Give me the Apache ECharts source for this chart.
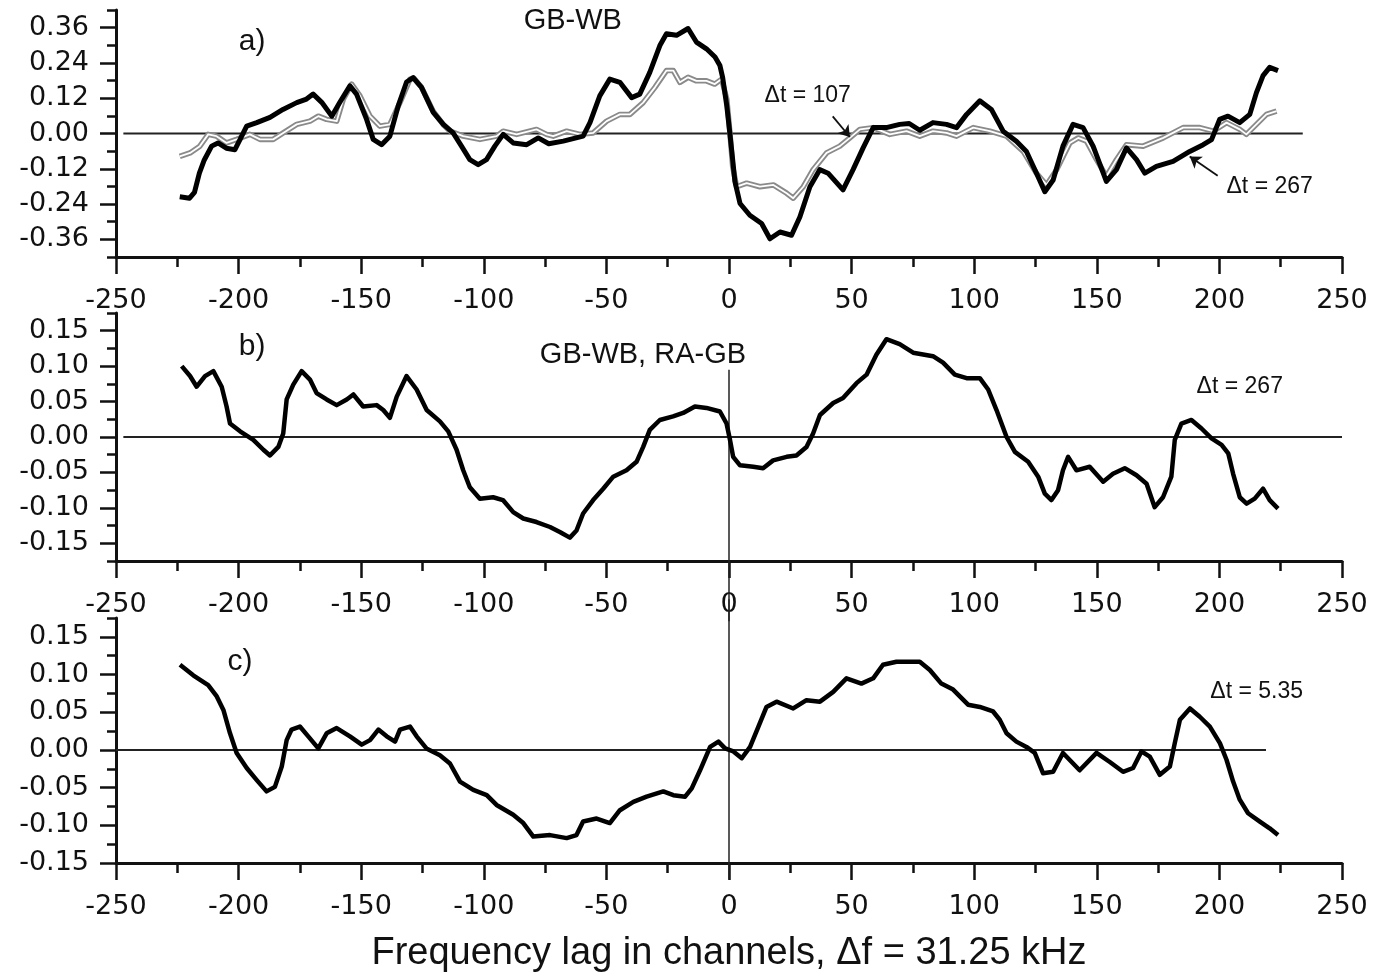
<!DOCTYPE html>
<html>
<head>
<meta charset="utf-8">
<title>GB-WB frequency lag</title>
<script src="https://cdnjs.cloudflare.com/ajax/libs/echarts/6.0.0/echarts.min.js"></script>
<style>
    html, body { margin: 0; padding: 0; background: #fff; }
    #chart { width: 1375px; height: 975px; }
</style>
</head>
<body>
<div id="chart"></div>
<script>
// panel a) GB-WB, dt = 267 (black) and dt = 107 (grey)
const gbwb267 = [[-224,-0.215],[-220,-0.22],[-218,-0.20],[-216,-0.135],[-214,-0.09],[-211,-0.043],[-208.4,-0.032],[-205,-0.05],[-201.5,-0.055],[-199.4,-0.02],[-196.7,0.025],[-192.6,0.037],[-187.2,0.055],[-181.9,0.082],[-176.3,0.105],[-172.3,0.117],[-169.6,0.134],[-166.1,0.106],[-162,0.059],[-158.7,0.106],[-154.6,0.162],[-151.9,0.134],[-147.8,0.048],[-145.1,-0.02],[-141.7,-0.038],[-138.3,-0.009],[-134.9,0.094],[-131.5,0.175],[-128.8,0.19],[-125.4,0.157],[-120.6,0.072],[-116.5,0.031],[-112.5,0.002],[-109.1,-0.043],[-105.7,-0.089],[-102.3,-0.106],[-98.9,-0.089],[-95.5,-0.043],[-92.1,-0.003],[-88,-0.032],[-82.5,-0.038],[-77.8,-0.015],[-73.5,-0.035],[-67.6,-0.026],[-59.5,-0.009],[-56.7,0.037],[-52.7,0.128],[-48.6,0.185],[-44.5,0.174],[-39.7,0.122],[-36.4,0.134],[-32.3,0.208],[-28.2,0.299],[-25.5,0.339],[-21.4,0.334],[-16.7,0.357],[-13.3,0.311],[-9.2,0.288],[-5.7,0.26],[-3.7,0.231],[-2.6,0.191],[-0.9,0.094],[0.4,-0.003],[1.5,-0.089],[2.4,-0.163],[4.5,-0.238],[8.5,-0.278],[13.3,-0.306],[16.7,-0.358],[20.8,-0.335],[25.5,-0.346],[28.9,-0.284],[33,-0.181],[37,-0.123],[40.4,-0.135],[46.5,-0.192],[50.6,-0.123],[54.7,-0.049],[58.8,0.02],[64.2,0.02],[69.6,0.031],[73.5,0.034],[77.8,0.011],[83.2,0.037],[88.7,0.031],[92.8,0.02],[96.9,0.065],[102.3,0.111],[107,0.082],[111.8,0.008],[117.2,-0.026],[121.3,-0.061],[125.4,-0.135],[128.8,-0.198],[132.2,-0.158],[136.2,-0.043],[140.3,0.031],[144.4,0.02],[148.5,-0.043],[153.9,-0.163],[158,-0.123],[162.1,-0.049],[166.2,-0.089],[169.6,-0.135],[174.3,-0.112],[181.1,-0.095],[187.9,-0.061],[193.4,-0.038],[196.8,-0.021],[200.1,0.048],[203.5,0.059],[208.3,0.037],[212.4,0.065],[215.1,0.139],[217.8,0.197],[220.5,0.225],[223.9,0.214]];
const gbwb107 = [[-224,-0.078],[-219.8,-0.066],[-215.8,-0.043],[-212.4,-0.003],[-209,-0.009],[-204.9,-0.032],[-200.8,-0.02],[-195.4,-0.003],[-191.3,-0.02],[-185.9,-0.02],[-181.8,0.002],[-176.3,0.031],[-170.9,0.042],[-167.5,0.059],[-164.1,0.048],[-160,0.042],[-157.3,0.117],[-153.9,0.168],[-150.5,0.128],[-146.4,0.059],[-142.4,0.025],[-138.3,0.031],[-134.2,0.105],[-130.1,0.185],[-128.5,0.188],[-125.4,0.157],[-120.6,0.075],[-116.5,0.03],[-113.8,0.008],[-108.4,-0.009],[-101.6,-0.02],[-94.8,-0.009],[-92.1,0.008],[-86.6,-0.003],[-78.5,0.014],[-74.4,-0.003],[-71.7,-0.009],[-66.2,0.008],[-60.8,-0.003],[-55.4,0.002],[-49.9,0.042],[-44.5,0.065],[-40.4,0.065],[-35,0.105],[-30.2,0.157],[-25.5,0.214],[-22.7,0.214],[-20,0.174],[-16.7,0.191],[-13.3,0.179],[-9.2,0.179],[-5.8,0.168],[-3,0.185],[-0.9,0.117],[0.4,0],[1.5,-0.112],[3.1,-0.181],[7.2,-0.169],[12.6,-0.181],[18.1,-0.175],[23.5,-0.203],[26.2,-0.22],[30.3,-0.181],[34.3,-0.123],[39.8,-0.066],[45.2,-0.043],[49.3,-0.015],[53.4,0.014],[58.8,0.02],[65.6,-0.003],[72.4,0.008],[77.8,-0.009],[83.2,0.008],[88.7,0.002],[92.8,-0.009],[99.6,0.02],[106.4,0.008],[113.2,-0.009],[120,-0.061],[125.4,-0.135],[129.5,-0.175],[133.6,-0.123],[139,-0.032],[142.4,-0.015],[145.8,-0.026],[149.9,-0.089],[153.9,-0.146],[158,-0.089],[162.1,-0.038],[168.9,-0.043],[177.1,-0.015],[185.2,0.02],[192,0.02],[197.5,0.008],[202.9,0.037],[208.3,0.014],[211,-0.003],[215.1,0.031],[219.2,0.065],[223.3,0.076]];
// panel b) GB-WB, RA-GB, dt = 267
const ragb267 = [[-223.2,0.1],[-219.8,0.086],[-217.1,0.071],[-213.7,0.086],[-210.3,0.093],[-206.9,0.071],[-204.9,0.043],[-203.5,0.019],[-199.4,0.008],[-194,-0.004],[-189.9,-0.018],[-187.2,-0.026],[-183.8,-0.014],[-181.8,0.005],[-180.4,0.053],[-177.7,0.074],[-174.3,0.093],[-170.9,0.081],[-168.2,0.062],[-164.1,0.053],[-160,0.045],[-155.9,0.053],[-153.2,0.06],[-149.2,0.043],[-143.7,0.045],[-141,0.038],[-138.3,0.027],[-135.5,0.057],[-131.5,0.086],[-127.4,0.067],[-123.3,0.038],[-117.9,0.022],[-114.5,0.008],[-111.1,-0.018],[-108.4,-0.047],[-105.7,-0.071],[-101.6,-0.087],[-96.2,-0.085],[-92.2,-0.089],[-88,-0.106],[-83.9,-0.115],[-78.5,-0.12],[-73,-0.127],[-69,-0.134],[-64.9,-0.142],[-62.2,-0.132],[-59.5,-0.108],[-55.4,-0.089],[-51.3,-0.073],[-47.2,-0.056],[-41.8,-0.047],[-37.7,-0.035],[-35,-0.014],[-32.3,0.01],[-28.2,0.024],[-22.8,0.029],[-18.7,0.034],[-13.9,0.043],[-9.2,0.041],[-3.7,0.036],[-1,0.019],[0.4,-0.004],[1.7,-0.028],[4.5,-0.04],[9.9,-0.042],[13.9,-0.044],[18,-0.033],[23.5,-0.028],[27.5,-0.026],[31.6,-0.014],[34.3,0.005],[37.1,0.031],[42.5,0.048],[46.5,0.055],[52,0.076],[56.1,0.088],[60.1,0.116],[64.2,0.138],[69.6,0.131],[75.1,0.119],[83.2,0.114],[87.3,0.105],[92.1,0.088],[96.9,0.083],[102.3,0.083],[105.7,0.067],[109.1,0.038],[113.2,0],[116.6,-0.021],[122,-0.035],[126.1,-0.056],[128.8,-0.08],[131.5,-0.089],[134.2,-0.075],[136.2,-0.047],[138.3,-0.028],[141.7,-0.047],[147.1,-0.042],[152.6,-0.063],[156.6,-0.052],[161.4,-0.044],[166.2,-0.054],[170.3,-0.066],[173.6,-0.099],[177,-0.085],[180.4,-0.056],[181.8,-0.004],[184.5,0.019],[188.6,0.024],[192.7,0.012],[196.8,-0.002],[200.9,-0.011],[203.6,-0.023],[205.6,-0.052],[208.3,-0.085],[211.1,-0.094],[214.4,-0.087],[217.8,-0.073],[220.5,-0.089],[223.9,-0.101]];
// panel c) dt = 5.35
const ragb535 = [[-223.9,0.113],[-218.5,0.099],[-212.4,0.086],[-208.9,0.071],[-206.2,0.053],[-203.5,0.022],[-200.8,-0.004],[-196.7,-0.024],[-192.6,-0.04],[-188.6,-0.055],[-185.2,-0.049],[-182.4,-0.022],[-180.4,0.013],[-178.4,0.027],[-175,0.031],[-171.6,0.018],[-167.5,0.002],[-164.1,0.022],[-160,0.029],[-154.6,0.018],[-149.8,0.007],[-146.4,0.013],[-143,0.027],[-139.6,0.018],[-136.2,0.011],[-134.2,0.027],[-130.1,0.031],[-127.4,0.018],[-123.4,0.002],[-117.9,-0.007],[-113.8,-0.018],[-109.7,-0.042],[-104.3,-0.053],[-98.8,-0.06],[-94.8,-0.073],[-88,-0.086],[-83.9,-0.097],[-79.8,-0.115],[-73,-0.113],[-66.2,-0.117],[-62.2,-0.113],[-59.5,-0.095],[-54,-0.091],[-48.6,-0.097],[-44.5,-0.08],[-39,-0.069],[-33.6,-0.062],[-26.8,-0.055],[-22.7,-0.06],[-17.9,-0.062],[-15.2,-0.051],[-11.8,-0.027],[-7.7,0.004],[-4.3,0.011],[-1.6,0.002],[1.8,-0.002],[5.2,-0.011],[8.6,0.004],[12,0.031],[15.3,0.057],[19.4,0.064],[26.2,0.055],[31.6,0.066],[37.1,0.064],[42.5,0.077],[47.9,0.095],[54,0.088],[58.8,0.095],[62.8,0.113],[68.3,0.117],[77.8,0.117],[81.9,0.106],[86.6,0.088],[91.4,0.08],[97.5,0.06],[102.3,0.057],[107.7,0.051],[110.4,0.04],[113.2,0.022],[117.2,0.011],[121.3,0.004],[124.7,-0.004],[128.1,-0.031],[132.2,-0.029],[136.2,-0.004],[143,-0.027],[149.9,-0.004],[155.3,-0.016],[160.7,-0.029],[164.8,-0.024],[168.2,-0.002],[171.6,-0.009],[175.7,-0.033],[179.8,-0.022],[181.8,0.009],[183.9,0.04],[188,0.055],[192,0.044],[196.1,0.031],[200.2,0.009],[202.9,-0.013],[205.6,-0.042],[208.3,-0.066],[211.7,-0.084],[216.5,-0.095],[220.5,-0.104],[223.9,-0.113]];

const yLabelsA = [-0.36, -0.24, -0.12, 0, 0.12, 0.24, 0.36];
const yLabelsBC = [-0.15, -0.10, -0.05, 0, 0.05, 0.10, 0.15];

const ink = '#111';
const tickFont = 'DejaVu Sans';
const textFont = 'Liberation Sans, Arial, sans-serif';

const grids = [
    { left: 116, right: 33, top: 10, height: 247 },
    { left: 116, right: 33, top: 313, height: 248 },
    { left: 116, right: 33, top: 618, height: 245 }
];
// [min, max, minor step, labelled values]
const yRanges = [
    [-0.42, 0.42, 0.06, yLabelsA],
    [-0.175, 0.175, 0.025, yLabelsBC],
    [-0.15, 0.175, 0.025, yLabelsBC]
];

const xAxes = grids.map((g, i) => ({
    type: 'value', gridIndex: i, min: -250, max: 250, interval: 50,
    axisLine: { onZero: false, lineStyle: { color: ink, width: 3 } },
    axisTick: { length: 17, lineStyle: { color: ink, width: 2.5 } },
    minorTick: { show: true, splitNumber: 2, length: 10, lineStyle: { color: ink, width: 2.5 } },
    splitLine: { show: false },
    axisLabel: { color: ink, fontFamily: tickFont, fontSize: 27, margin: 30 },
    name: i === 2 ? 'Frequency lag in channels, \u0394f = 31.25 kHz' : '',
    nameLocation: 'middle', nameGap: 72,
    nameTextStyle: { color: ink, fontFamily: textFont, fontSize: 38 }
}));

const yAxes = [];
yRanges.forEach((r, i) => {
    yAxes.push({
        type: 'value', gridIndex: i, position: 'left', min: r[0], max: r[1],
        axisLine: { show: true, onZero: false, lineStyle: { color: ink, width: 3 } },
        axisTick: { show: true, customValues: r[3], length: 16, lineStyle: { color: ink, width: 2.5 } },
        axisLabel: { customValues: r[3], formatter: v => v.toFixed(2), color: ink, fontFamily: tickFont, fontSize: 27, margin: 27 },
        splitLine: { show: false }
    });
    yAxes.push({
        type: 'value', gridIndex: i, position: 'left', min: r[0], max: r[1], interval: r[2],
        axisLine: { show: false, onZero: false },
        axisTick: { show: true, length: 9, lineStyle: { color: ink, width: 2.5 } },
        axisLabel: { show: false },
        splitLine: { show: false }
    });
});

function curve(data, gi, color, width, z) {
    return {
        type: 'line', xAxisIndex: gi, yAxisIndex: gi * 2, data: data,
        symbol: 'none', lineStyle: { color: color, width: width, join: 'round' }, z: z, silent: true
    };
}

function guide(pts, gi, width) {
    return {
        type: 'line', xAxisIndex: gi, yAxisIndex: gi * 2, data: pts, clip: false,
        symbol: 'none', lineStyle: { color: '#222', width: width }, z: 1, silent: true
    };
}

function arrows(gi, pairs) {
    return {
        type: 'line', xAxisIndex: gi, yAxisIndex: gi * 2, data: [], silent: true,
        markLine: {
            silent: true, animation: false,
            symbol: ['none', 'arrow'], symbolSize: 11,
            label: { show: false },
            lineStyle: { color: ink, width: 1.8, type: 'solid' },
            data: pairs.map(p => [{ coord: p[0] }, { coord: p[1] }])
        }
    };
}

function notes(gi, items) {
    return {
        type: 'scatter', xAxisIndex: gi, yAxisIndex: gi * 2, symbolSize: 1, clip: false, silent: true,
        itemStyle: { color: 'transparent', opacity: 1 },
        label: { show: true, position: 'inside', formatter: '{b}', color: ink, textBorderWidth: 0, fontFamily: textFont },
        data: items.map(it => ({ name: it[0], value: it[1], label: { fontSize: it[2] } })),
        z: 5
    };
}

const chart = echarts.init(document.getElementById('chart'));
chart.setOption({
    animation: false,
    backgroundColor: '#fff',
    grid: grids,
    xAxis: xAxes,
    yAxis: yAxes,
    series: [
        // a)
        guide([[-247, 0], [234, 0]], 0, 2),
        curve(gbwb107, 0, '#8a8a8a', 5.5, 2),
        curve(gbwb107, 0, '#fff', 1.8, 3),
        curve(gbwb267, 0, '#000', 5, 4),
        arrows(0, [[[42.3, 0.058], [49.3, -0.012]], [[199.3, -0.144], [187.9, -0.078]]]),
        notes(0, [['a)', [-194.5, 0.312], 30], ['GB-WB', [-63.7, 0.381], 29],
                  ['\u0394t = 107', [32.1, 0.127], 23], ['\u0394t = 267', [220.5, -0.182], 23]]),
        // b)
        guide([[-247, 0], [250, 0]], 1, 2),
        guide([[0, 0.095], [0, -0.26]], 1, 1.5),
        curve(ragb267, 1, '#000', 4.5, 4),
        notes(1, [['b)', [-194.5, 0.128], 30], ['GB-WB, RA-GB', [-35.1, 0.116], 29],
                  ['\u0394t = 267', [208.3, 0.071], 23]]),
        // c)
        guide([[-250, 0], [219, 0]], 2, 2),
        guide([[0, 0.2], [0, -0.172]], 2, 1.5),
        curve(ragb535, 2, '#000', 4.5, 4),
        notes(2, [['c)', [-199.4, 0.117], 30], ['\u0394t = 5.35', [215.2, 0.077], 23]])
    ]
});
</script>
</body>
</html>
